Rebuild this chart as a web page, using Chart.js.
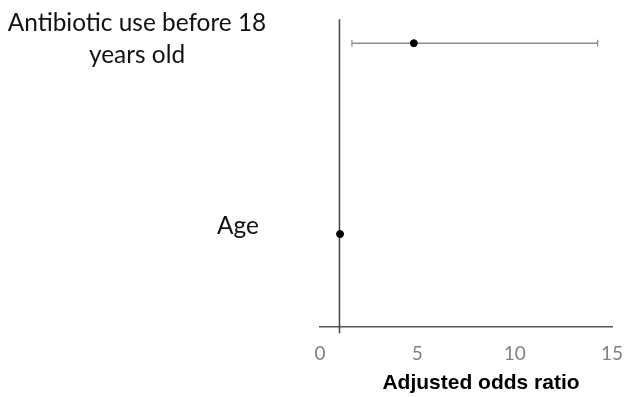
<!DOCTYPE html>
<html>
<head>
<meta charset="utf-8">
<script src="https://cdn.jsdelivr.net/npm/chart.js@4.4.1/dist/chart.umd.min.js"></script>
<style>
  html, body { margin: 0; padding: 0; background: #fff; }
  #wrap { width: 624px; height: 397px; }
</style>
</head>
<body>
<div id="wrap"><canvas id="forestChart"></canvas></div>
<script>
// Data
const categories = [["Antibiotic use before 18", "years old"], ["Age"]];
const oddsRatios = [4.82, 1.03];
const ciLower = [1.64, 1.0];
const ciUpper = [14.26, 1.06];
const rowPositions = [1, 0];
const xTicks = [0, 5, 10, 15];
const refValue = 1;
const xTitle = "Adjusted odds ratio";

// one dataset per CI so the bars are separate segments
const ciDatasets = categories.map((c, i) => ({
    type: "line",
    data: [
        { x: ciLower[i], y: rowPositions[i] },
        { x: ciUpper[i], y: rowPositions[i] },
    ],
    borderColor: "#8c8c8c",
    borderWidth: 1.5,
    pointStyle: "line",
    rotation: 90,
    pointRadius: 3.5,
    pointBorderColor: "#8c8c8c",
    pointBorderWidth: 1.2,
    showLine: true,
    order: 2,
}));

// row labels on the left and the axis title (sits off-centre in the figure)
const extraText = {
    id: "extraText",
    afterDraw(chart) {
        const ctx = chart.ctx;
        const y = chart.scales.y;
        ctx.save();
        ctx.fillStyle = "#111";
        ctx.font = "24.4px Lato";
        ctx.textAlign = "center";
        ctx.textBaseline = "middle";
        const y0 = y.getPixelForValue(rowPositions[0]);
        ctx.fillText(categories[0][0], 137, y0 - 20);
        ctx.fillText(categories[0][1], 137, y0 + 12);
        const y1 = y.getPixelForValue(rowPositions[1]);
        ctx.fillText(categories[1][0], 238, y1 - 8);

        ctx.fillStyle = "#000";
        ctx.font = "bold 21px 'Liberation Sans'";
        ctx.fillText(xTitle, 481, 383);
        ctx.restore();
    },
};

const config = {
    type: "scatter",
    data: {
        datasets: [
            {
                label: "Adjusted OR",
                data: oddsRatios.map((v, i) => ({ x: v, y: rowPositions[i] })),
                backgroundColor: "#000",
                borderColor: "#000",
                pointRadius: 3.5,
                order: 0,
            },
            ...ciDatasets,
            {
                type: "line",
                data: [
                    { x: refValue, y: -0.52 },
                    { x: refValue, y: 1.126 },
                ],
                borderColor: "#444",
                borderWidth: 1.5,
                pointRadius: 0,
                clip: false,
                order: 3,
            },
        ],
    },
    options: {
        responsive: true,
        maintainAspectRatio: false,
        animation: false,
        layout: { padding: { left: 320, right: 12, top: 0, bottom: 1 } },
        plugins: { legend: { display: false }, tooltip: { enabled: false } },
        scales: {
            x: {
                type: "linear",
                min: 0,
                max: 15,
                afterBuildTicks(scale) {
                    scale.ticks = xTicks.map((v) => ({ value: v }));
                },
                afterFit(scale) {
                    scale.height = 69;
                    scale.paddingRight = 0;
                    scale.paddingLeft = 0;
                },
                grid: { display: false, drawTicks: false },
                border: { display: true, color: "#555", width: 1.5 },
                ticks: {
                    color: "#808080",
                    font: { family: "Lato", size: 19 },
                    padding: 15,
                },
                title: { display: false },
            },
            y: {
                type: "linear",
                display: false,
                min: -0.487,
                max: 1.199,
            },
        },
    },
    plugins: [extraText],
};

new Chart(document.getElementById("forestChart").getContext("2d"), config);
</script>
</body>
</html>
